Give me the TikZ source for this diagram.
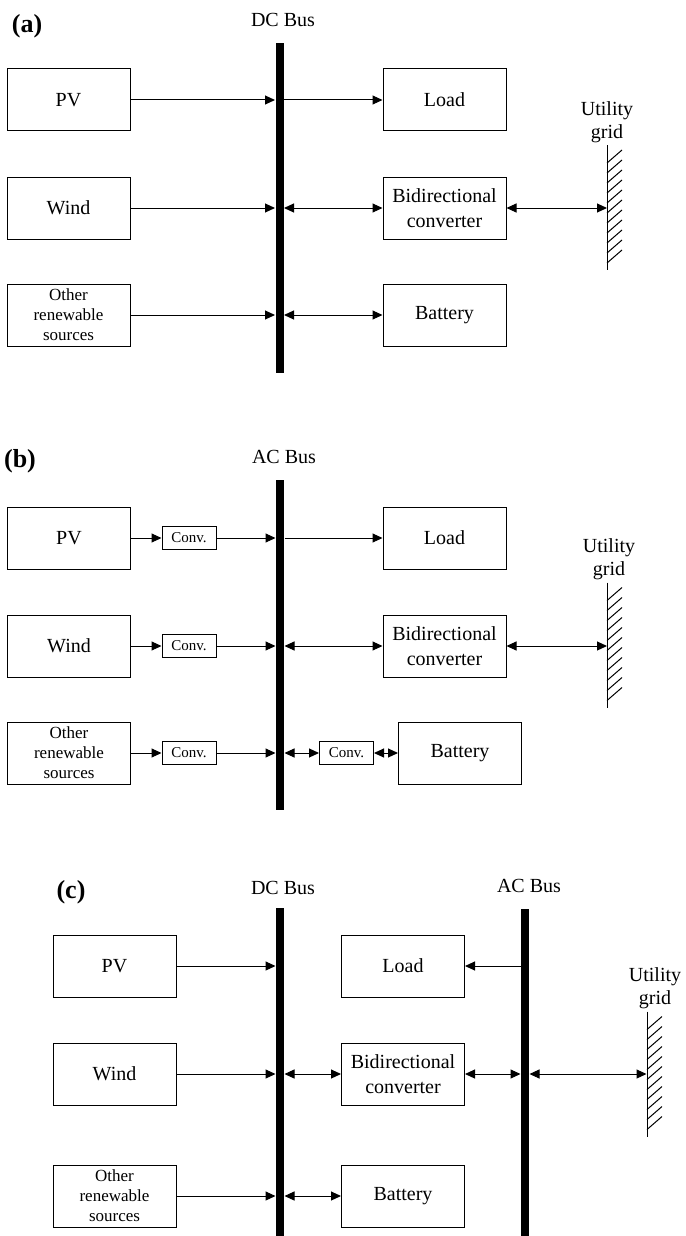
\documentclass[tikz,border=0pt]{standalone}
\usepackage{fontspec}
\setmainfont{Liberation Serif}
\usetikzlibrary{arrows.meta,positioning}

\tikzset{
  blk/.style={draw,line width=0.5pt,minimum width=61.5pt,minimum height=31pt,inner sep=0pt,align=center,font=\fontsize{10}{12.5}\selectfont},
  blksmall/.style={blk,font=\fontsize{8.5}{10}\selectfont},
  conv/.style={draw,line width=0.5pt,minimum width=27pt,minimum height=11.5pt,inner sep=0pt,font=\fontsize{7.5}{9}\selectfont},
  bus/.style={fill=black,minimum width=4pt,inner sep=0pt},
  buslbl/.style={inner sep=0pt,font=\fontsize{10}{12}\selectfont},
  gridlbl/.style={inner sep=1pt,align=center,font=\fontsize{10}{11.5}\selectfont},
  gridnode/.style={minimum width=0pt,minimum height=62pt,inner sep=0pt},
  panel/.style={inner sep=0pt,font=\fontsize{13}{15}\selectfont\bfseries},
}

\begin{document}
\begin{tikzpicture}[x=0.5pt,y=-0.5pt,line width=0.5pt,>={Triangle[length=5pt,width=4.5pt]}]
\useasboundingbox (0,0) rectangle (685,1236);

% (a) DC bus
\node[panel] (labA) at (27,26) {(a)};
\node[buslbl] (busAlbl) at (283,20) {DC Bus};
\node[bus,minimum height=165pt] (busA) at (279.5,208) {};

\node[blk] (pvA) at (68.5,100) {PV};
\node[blk] (windA) at (68.5,208) {Wind};
\node[blksmall] (otherA) at (68.5,315) {Other\\renewable\\sources};

\node[blk] (loadA) at (444.5,100) {Load};
\node[blk] (bidirA) at (444.5,208) {Bidirectional\\converter};
\node[blk] (batA) at (444.5,315) {Battery};

\node[gridnode] (gridA) at (607,207.5) {};
\node[gridlbl,above=0pt of gridA] (utilA) {Utility\\grid};
\draw (gridA.north) -- (gridA.south);
\foreach \k in {0,...,10}
  \draw ([yshift={3.5pt+5pt*\k}]gridA.south) -- ++(15,-13);

\draw[->] (pvA) -- (pvA -| busA.west);
\draw[->] (windA) -- (windA -| busA.west);
\draw[->] (otherA) -- (otherA -| busA.west);
\draw[->] (busA.east |- loadA) -- (loadA);
\draw[<->] (busA.east |- bidirA) -- (bidirA);
\draw[<->] (busA.east |- batA) -- (batA);
\draw[<->] (bidirA) -- (bidirA -| gridA);

% (b) AC bus
\node[panel] (labB) at (20,461) {(b)};
\node[buslbl] (busBlbl) at (284,457) {AC Bus};
\node[bus,minimum height=165pt] (busB) at (280,645) {};

\node[blk] (pvB) at (69,538) {PV};
\node[blk] (windB) at (69,646) {Wind};
\node[blksmall] (otherB) at (69,753) {Other\\renewable\\sources};

\node[conv] (cvpvB) at (189,538) {Conv.};
\node[conv] (cvwiB) at (189,646) {Conv.};
\node[conv] (cvotB) at (189,753) {Conv.};

\node[blk] (loadB) at (444.5,538) {Load};
\node[blk] (bidirB) at (444.5,646) {Bidirectional\\converter};
\node[conv] (cvbatB) at (346.5,753) {Conv.};
\node[blk] (batB) at (460,753) {Battery};

\node[gridnode] (gridB) at (607,645) {};
\node[gridlbl,above=0pt of gridB,xshift=1pt] (utilB) {Utility\\grid};
\draw (gridB.north) -- (gridB.south);
\foreach \k in {0,...,10}
  \draw ([yshift={3.5pt+5pt*\k}]gridB.south) -- ++(15,-13);

\draw[->] (pvB) -- (cvpvB);
\draw[->] (windB) -- (cvwiB);
\draw[->] (otherB) -- (cvotB);
\draw[->] (cvpvB) -- (cvpvB -| busB.west);
\draw[->] (cvwiB) -- (cvwiB -| busB.west);
\draw[->] (cvotB) -- (cvotB -| busB.west);
\draw[->] (busB.east |- loadB) -- (loadB);
\draw[<->] (busB.east |- bidirB) -- (bidirB);
\draw[<->] (busB.east |- cvbatB) -- (cvbatB);
\draw[<->] (cvbatB) -- (batB);
\draw[<->] (bidirB) -- (bidirB -| gridB);

% (c) DC and AC bus
\node[panel] (labC) at (71,892) {(c)};
\node[buslbl] (busDClbl) at (283,888) {DC Bus};
\node[buslbl] (busAClbl) at (529,886) {AC Bus};
\node[bus,minimum height=164pt] (busDC) at (280,1072) {};
\node[bus,minimum height=163.5pt] (busAC) at (525,1072.5) {};

\node[blk] (pvC) at (114.5,966) {PV};
\node[blk] (windC) at (114.5,1074) {Wind};
\node[blksmall] (otherC) at (114.5,1196) {Other\\renewable\\sources};

\node[blk] (loadC) at (403,966) {Load};
\node[blk] (bidirC) at (403,1074) {Bidirectional\\converter};
\node[blk] (batC) at (403,1196) {Battery};

\node[gridnode] (gridC) at (647,1074) {};
\node[gridlbl,above=0pt of gridC,xshift=4pt] (utilC) {Utility\\grid};
\draw (gridC.north) -- (gridC.south);
\foreach \k in {0,...,10}
  \draw ([yshift={3.5pt+5pt*\k}]gridC.south) -- ++(15,-13);

\draw[->] (pvC) -- (pvC -| busDC.west);
\draw[->] (windC) -- (windC -| busDC.west);
\draw[->] (otherC) -- (otherC -| busDC.west);
\draw[<->] (busDC.east |- bidirC) -- (bidirC);
\draw[<->] (busDC.east |- batC) -- (batC);
\draw[->] (busAC.west |- loadC) -- (loadC);
\draw[<->] (bidirC) -- (bidirC -| busAC.west);
\draw[<->] (busAC.east |- gridC) -- (gridC);

\end{tikzpicture}
\end{document}
